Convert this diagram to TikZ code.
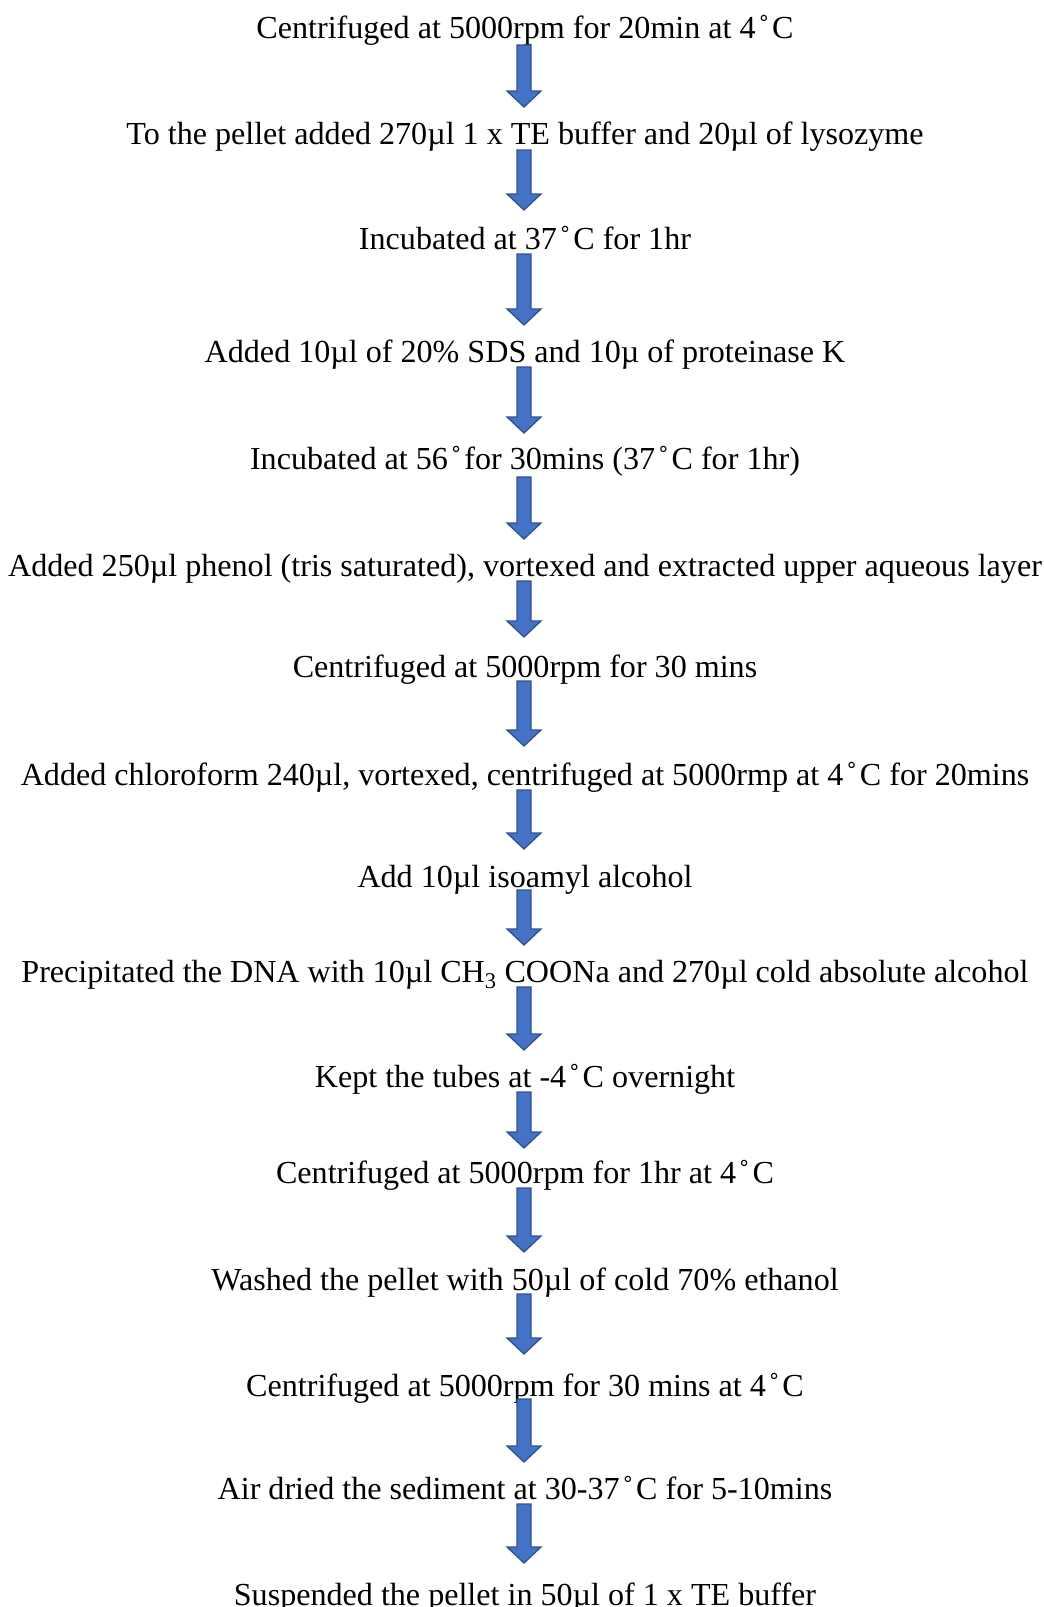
\documentclass[tikz,border=0pt]{standalone}
\usepackage{fontspec}
\setmainfont{Liberation Serif}
\definecolor{arrowfill}{HTML}{4472C4}
\definecolor{arrowdraw}{HTML}{2F528F}
\newcommand\dg{\kern0.09em˚\kern0.09em}
\newcommand\flowarrow[3]{%
  \draw[blockarrow] (517,#2) -- (531,#2) -- (531,#3-16) -- (541,#3-16) -- (524,#3) coordinate (#1)
    -- (507,#3-16) -- (517,#3-16) -- cycle;}
\begin{document}
\begin{tikzpicture}[x=1pt,y=-1pt,
  steptext/.style={anchor=base,inner sep=0pt,font=\fontsize{32.1}{38}\selectfont},
  blockarrow/.style={fill=arrowfill,draw=arrowdraw,line width=1.3pt,line join=miter}]
\useasboundingbox (0,0) rectangle (1044,1607);
\node[steptext] (s1) at (525,38) {Centrifuged at 5000rpm for 20min at 4\dg C};
\node[steptext] (s2) at (525,144) {To the pellet added 270µl 1 x TE buffer and 20µl of lysozyme};
\node[steptext] (s3) at (525,249) {Incubated at 37\dg C for 1hr};
\node[steptext] (s4) at (525,362) {Added 10µl of 20\% SDS and 10µ of proteinase K};
\node[steptext] (s5) at (525,469) {Incubated at 56\dg for 30mins (37\dg C for 1hr)};
\node[steptext] (s6) at (525,576) {Added 250µl phenol (tris saturated), vortexed and extracted upper aqueous layer};
\node[steptext] (s7) at (525,677) {Centrifuged at 5000rpm for 30 mins};
\node[steptext] (s8) at (525,785) {Added chloroform 240µl, vortexed, centrifuged at 5000rmp at 4\dg C for 20mins};
\node[steptext] (s9) at (525,887) {Add 10µl isoamyl alcohol};
\node[steptext] (s10) at (525,982) {Precipitated the DNA with 10µl CH\textsubscript{3} COONa and 270µl cold absolute alcohol};
\node[steptext] (s11) at (525,1087) {Kept the tubes at -4\dg C overnight};
\node[steptext] (s12) at (525,1183) {Centrifuged at 5000rpm for 1hr at 4\dg C};
\node[steptext] (s13) at (525,1290) {Washed the pellet with 50µl of cold 70\% ethanol};
\node[steptext] (s14) at (525,1396) {Centrifuged at 5000rpm for 30 mins at 4\dg C};
\node[steptext] (s15) at (525,1499) {Air dried the sediment at 30-37\dg C for 5-10mins};
\node[steptext] (s16) at (525,1605) {Suspended the pellet in 50µl of 1 x TE buffer};
\flowarrow{a1}{45}{107}
\flowarrow{a2}{150}{210}
\flowarrow{a3}{254}{325}
\flowarrow{a4}{367}{433}
\flowarrow{a5}{477}{539}
\flowarrow{a6}{581}{637}
\flowarrow{a7}{681}{746}
\flowarrow{a8}{790}{849}
\flowarrow{a9}{890}{945}
\flowarrow{a10}{987}{1050}
\flowarrow{a11}{1092}{1148}
\flowarrow{a12}{1188}{1252}
\flowarrow{a13}{1294}{1354}
\flowarrow{a14}{1399}{1462}
\flowarrow{a15}{1504}{1563}
\end{tikzpicture}
\end{document}
